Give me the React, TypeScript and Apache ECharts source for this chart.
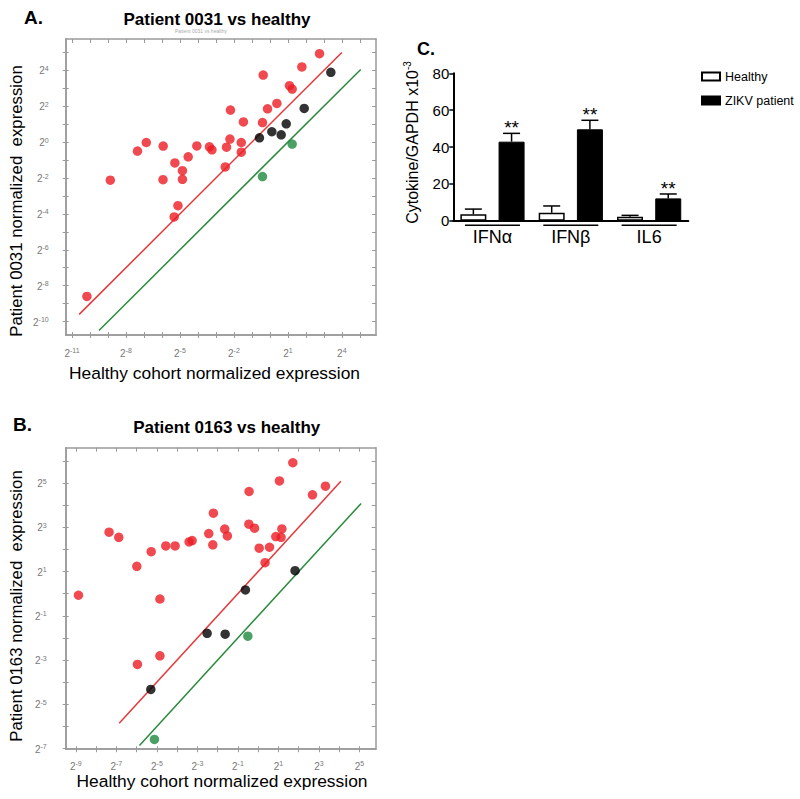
import React, { useEffect, useRef } from "react";
import * as echarts from "echarts";

const FONT = "'Liberation Sans', Arial, Helvetica, sans-serif";

// ---------- Panel A : Patient 0031 vs healthy (log2 values) ----------
const aRed: number[][] = [
  [2.76, 4.93], [1.78, 4.19], [-0.37, 3.74], [1.09, 3.15], [1.24, 2.96], [0.39, 2.16],
  [-0.13, 1.86], [-2.19, 1.79], [-1.47, 1.13], [-0.41, 1.09], [-2.22, 0.17], [-1.59, -0.02],
  [-2.41, -0.28], [-1.59, -0.56], [-3.36, -0.26], [-3.22, -0.43], [-4.06, -0.21], [-4.54, -0.82],
  [-5.28, -1.16], [-4.86, -1.59], [-4.86, -2.07], [-5.94, -2.09], [-5.93, -0.22], [-6.87, -0.02],
  [-7.36, -0.5], [-8.87, -2.12], [-2.48, -1.38], [-5.11, -3.54], [-5.32, -4.17], [-10.17, -8.6],
];
const aBlack: number[][] = [[3.39, 3.89], [1.91, 1.88], [0.91, 1.02], [0.63, 0.41], [0.11, 0.58], [-0.58, 0.24]];
const aGreen: number[][] = [[1.24, -0.11], [-0.41, -1.92]];
const aRedLine: number[][] = [[-10.6, -9.6], [4.0, 5.0]];
const aGreenLine: number[][] = [[-9.5, -10.5], [5.05, 4.05]];
const aXTicks = [-11, -10, -9, -8, -7, -6, -5, -4, -3, -2, -1, 0, 1, 2, 3, 4, 5];
const aXLabels = [-11, -8, -5, -2, 1, 4];
const aYTicks = [-10, -9, -8, -7, -6, -5, -4, -3, -2, -1, 0, 1, 2, 3, 4, 5];
const aYLabels = [-10, -8, -6, -4, -2, 0, 2, 4];

// ---------- Panel B : Patient 0163 vs healthy (log2 values) ----------
const bRed: number[][] = [
  [1.71, 5.92], [1.05, 5.1], [3.32, 4.86], [2.68, 4.47], [-0.45, 4.62], [-2.21, 3.64],
  [-0.46, 3.14], [-0.18, 2.96], [1.17, 2.93], [0.87, 2.58], [1.13, 2.55], [-1.65, 2.92],
  [-1.52, 2.61], [-2.44, 2.72], [-2.24, 2.21], [0.05, 2.06], [0.56, 2.1], [0.34, 1.4],
  [-3.26, 2.4], [-3.41, 2.34], [-4.1, 2.16], [-4.56, 2.16], [-5.28, 1.9], [-5.99, 1.24],
  [-6.88, 2.55], [-7.36, 2.78], [-8.87, -0.07], [-4.85, -0.24], [-4.85, -2.81], [-5.96, -3.2],
];
const bBlack: number[][] = [[-0.63, 0.17], [1.82, 1.04], [-2.52, -1.79], [-1.63, -1.83], [-5.3, -4.33]];
const bGreen: number[][] = [[-0.51, -1.92], [-5.12, -6.59]];
const bRedLine: number[][] = [[-6.86, -5.86], [4.08, 5.08]];
const bGreenLine: number[][] = [[-5.86, -6.86], [5.08, 4.08]];
const bXTicks = [-9, -8, -7, -6, -5, -4, -3, -2, -1, 0, 1, 2, 3, 4, 5];
const bXLabels = [-9, -7, -5, -3, -1, 1, 3, 5];
const bYTicks = [-7, -6, -5, -4, -3, -2, -1, 0, 1, 2, 3, 4, 5, 6];
const bYLabels = [-7, -5, -3, -1, 1, 3, 5];

// ---------- Panel C : cytokines ----------
const cytokines = ["IFNα", "IFNβ", "IL6"];
const healthy = [3.5, 4.3, 2.2];
const healthySem = [2.8, 3.7, 0.7];
const zikv = [42.9, 49.6, 12.1];
const zikvSem = [4.5, 4.9, 2.4];
const zikvSig = ["**", "**", "**"];

const GRAY = "#9a9a9a";
const RED = "#ec1c24";
const GREEN = "#1e8a3c";

const supFmt = (v: number) => `{b|2}{s|${v}}`;
const supRich = {
  b: { fontSize: 10, color: "#777", fontFamily: FONT, verticalAlign: "bottom", lineHeight: 11 },
  s: { fontSize: 7, color: "#777", fontFamily: FONT, verticalAlign: "top", lineHeight: 7, padding: [0, 0, 5, 0] },
};

type Kind = "main" | "inner" | "far";

function xAx(grid: number, min: number, max: number, ticks: number[], labels: number[], kind: Kind, margin = 12) {
  return {
    type: "value", gridIndex: grid, min, max, position: kind === "far" ? "top" : "bottom",
    axisLine: { show: true, onZero: false, lineStyle: { color: GRAY, width: 1.5 } },
    axisTick: { show: true, inside: kind !== "main", length: kind === "far" ? 4 : 3, customValues: ticks, lineStyle: { color: GRAY, width: 1 } },
    axisLabel: kind === "main"
      ? { show: true, customValues: labels, formatter: supFmt, rich: supRich, margin }
      : { show: false },
    splitLine: { show: false },
  };
}
function yAx(grid: number, min: number, max: number, ticks: number[], labels: number[], kind: Kind, margin = 16) {
  return {
    type: "value", gridIndex: grid, min, max, position: kind === "far" ? "right" : "left",
    axisLine: { show: true, onZero: false, lineStyle: { color: GRAY, width: 1.5 } },
    axisTick: { show: true, inside: kind !== "main", length: kind === "far" ? 4 : 3, customValues: ticks, lineStyle: { color: GRAY, width: 1 } },
    axisLabel: kind === "main"
      ? { show: true, customValues: labels, formatter: supFmt, rich: supRich, margin }
      : { show: false },
    splitLine: { show: false },
  };
}

const pts = (name: string, data: number[][], color: string, xi: number, yi: number) => ({
  type: "scatter", name, data, xAxisIndex: xi, yAxisIndex: yi, symbol: "circle", symbolSize: 9.5,
  itemStyle: { color }, silent: true, z: 3,
});
const ln = (data: number[][], color: string, xi: number, yi: number) => ({
  type: "line", data, xAxisIndex: xi, yAxisIndex: yi, showSymbol: false, symbol: "none",
  lineStyle: { color, width: 1.5 }, silent: true, z: 2,
});

const errRender = (offset: number, sig: string[] | null) => (params: any, api: any) => {
  const i = api.value(0), v = api.value(1), e = api.value(2);
  const base = api.coord([i, v]);
  const top = api.coord([i, v + e]);
  const x = base[0] + offset;
  const children: any[] = [
    { type: "line", shape: { x1: x, y1: base[1], x2: x, y2: top[1] }, style: { stroke: "#000", lineWidth: 1.5 } },
    { type: "line", shape: { x1: x - 8.5, y1: top[1], x2: x + 8.5, y2: top[1] }, style: { stroke: "#000", lineWidth: 1.5 } },
  ];
  if (sig) {
    children.push({
      type: "text", x, y: top[1] + 4,
      style: { text: sig[params.dataIndex], fontSize: 19, fontFamily: FONT, fill: "#000", align: "center", verticalAlign: "bottom" },
    });
  }
  return { type: "group", children };
};

const txt = (text: string, x: number, y: number, size: number, opts: any = {}) => ({
  type: "text", x, y, rotation: opts.rotation || 0, silent: true,
  style: {
    text, fontSize: size, fontFamily: FONT, fontWeight: opts.bold ? "bold" : "normal",
    fill: opts.color || "#000", align: opts.align || "center", verticalAlign: "middle",
    rich: opts.rich,
  },
});

const option: any = {
  animation: false,
  backgroundColor: "#fff",
  textStyle: { fontFamily: FONT },
  grid: [
    { left: 65.7, top: 39, width: 310.3, height: 296 },
    { left: 65.7, top: 447.7, width: 310, height: 301.5 },
    { left: 453.3, top: 73.3, width: 235, height: 147.4 },
  ],
  xAxis: [
    xAx(0, -11.35, 5.9, aXTicks, aXLabels, "main", 12),
    xAx(0, -11.35, 5.9, aXTicks, aXLabels, "inner"),
    xAx(0, -11.35, 5.9, aXTicks, aXLabels, "far"),
    xAx(1, -9.5, 5.8, bXTicks, bXLabels, "main", 11),
    xAx(1, -9.5, 5.8, bXTicks, bXLabels, "inner"),
    xAx(1, -9.5, 5.8, bXTicks, bXLabels, "far"),
    {
      type: "category", gridIndex: 2, data: cytokines, position: "bottom",
      axisLine: { show: true, lineStyle: { color: "#000", width: 2 } },
      axisTick: { show: false },
      axisLabel: {
        margin: 3, interval: 0,
        formatter: (v: string) => `{bar|}\n{t|${v}}`,
        rich: {
          bar: { width: 55, height: 1.5, backgroundColor: "#000", lineHeight: 3, align: "center" },
          t: { fontSize: 18, fontFamily: FONT, color: "#000", lineHeight: 20, align: "center" },
        },
      },
    },
  ],
  yAxis: [
    yAx(0, -10.75, 5.75, aYTicks, aYLabels, "main", 17),
    yAx(0, -10.75, 5.75, aYTicks, aYLabels, "inner"),
    yAx(0, -10.75, 5.75, aYTicks, aYLabels, "far"),
    yAx(1, -7.03, 6.6, bYTicks, bYLabels, "main", 19),
    yAx(1, -7.03, 6.6, bYTicks, bYLabels, "inner"),
    yAx(1, -7.03, 6.6, bYTicks, bYLabels, "far"),
    {
      type: "value", gridIndex: 2, min: 0, max: 80, interval: 20,
      axisLine: { show: true, lineStyle: { color: "#000", width: 2 } },
      axisTick: { show: true, length: 4, lineStyle: { color: "#000", width: 1.5 } },
      axisLabel: { fontSize: 15, color: "#000", fontFamily: FONT, margin: 4 },
      splitLine: { show: false },
    },
  ],
  legend: {
    orient: "vertical", left: 696, top: 65, itemWidth: 18, itemHeight: 8, itemGap: 11,
    icon: "rect", data: ["Healthy", "ZIKV patient"],
    textStyle: { fontSize: 12.5, color: "#000", fontFamily: FONT },
  },
  series: [
    ln(aRedLine, "#e5383b", 0, 0),
    ln(aGreenLine, "#2b8a3e", 0, 0),
    pts("A red", aRed, RED, 0, 0),
    pts("A black", aBlack, "#000", 0, 0),
    pts("A green", aGreen, GREEN, 0, 0),
    ln(bRedLine, "#e5383b", 3, 3),
    ln(bGreenLine, "#2b8a3e", 3, 3),
    pts("B red", bRed, RED, 3, 3),
    pts("B black", bBlack, "#000", 3, 3),
    pts("B green", bGreen, GREEN, 3, 3),
    {
      type: "bar", name: "Healthy", data: healthy, xAxisIndex: 6, yAxisIndex: 6,
      barWidth: 26, barGap: "47%",
      itemStyle: { color: "#fff", borderColor: "#000", borderWidth: 1.5 },
    },
    {
      type: "bar", name: "ZIKV patient", data: zikv, xAxisIndex: 6, yAxisIndex: 6,
      barWidth: 26, barGap: "47%",
      itemStyle: { color: "#000", borderColor: "#000", borderWidth: 1 },
    },
    {
      type: "custom", xAxisIndex: 6, yAxisIndex: 6, z: 5, silent: true,
      data: cytokines.map((_, i) => [i, healthy[i], healthySem[i]]),
      renderItem: errRender(-19.1, null),
    },
    {
      type: "custom", xAxisIndex: 6, yAxisIndex: 6, z: 5, silent: true,
      data: cytokines.map((_, i) => [i, zikv[i], zikvSem[i]]),
      renderItem: errRender(19.1, zikvSig),
    },
  ],
  graphic: [
    txt("A.", 24, 17, 19, { bold: true, align: "left" }),
    txt("Patient 0031 vs healthy", 217, 19, 17, { bold: true }),
    txt("Patient 0031 vs healthy", 201, 30.5, 5, { color: "#aaa" }),
    txt("Patient 0031 normalized  expression", 16, 201, 16.8, { rotation: Math.PI / 2 }),
    txt("Healthy cohort normalized expression", 214.5, 373, 17.4),
    txt("B.", 13, 424.3, 19, { bold: true, align: "left" }),
    txt("Patient 0163 vs healthy", 226.7, 427.7, 17, { bold: true }),
    txt("Patient 0163 normalized  expression", 16, 606, 16.8, { rotation: Math.PI / 2 }),
    txt("Healthy cohort normalized expression", 222, 781, 17.4),
    txt("C.", 417, 49, 18, { bold: true, align: "left" }),
    txt("{a|Cytokine/GAPDH x10}{s|-3}", 411, 142.5, 16, {
      rotation: Math.PI / 2,
      rich: {
        a: { fontSize: 16, fontFamily: FONT, fill: "#000", color: "#000", verticalAlign: "bottom", lineHeight: 18 },
        s: { fontSize: 10, fontFamily: FONT, fill: "#000", color: "#000", verticalAlign: "top", lineHeight: 10 },
      },
    }),
  ],
};

export default function App() {
  const ref = useRef<HTMLDivElement>(null);
  useEffect(() => {
    const chart = echarts.init(ref.current!, null, { renderer: "svg" });
    chart.setOption(option);
    return () => chart.dispose();
  }, []);
  return (
    <div
      ref={ref}
      style={{ position: "fixed", left: 0, top: 0, width: 800, height: 799, background: "#fff" }}
    />
  );
}
